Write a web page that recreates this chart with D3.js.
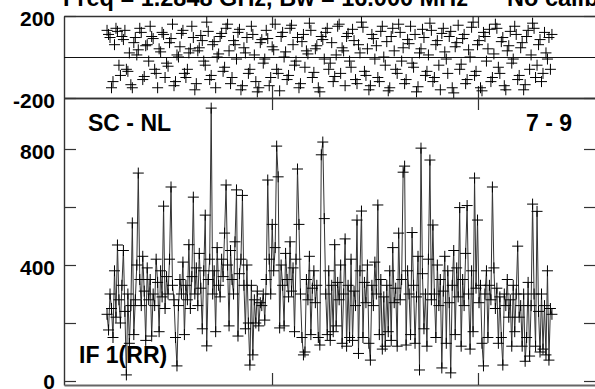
<!DOCTYPE html>
<html><head><meta charset="utf-8">
<script src="https://cdn.jsdelivr.net/npm/d3@7"></script>
<style>
body{margin:0;background:#fff;overflow:hidden}
svg{display:block}
text{font-family:"Liberation Sans",Arial,sans-serif;font-weight:bold;fill:#000}
</style>
</head><body>
<svg id="chart" width="595" height="389"></svg>
<script>
const titleText = "Freq = 1.2848 GHz, Bw = 16.000 MHz      No calibration";
const sourceLabel = "SC - NL";
const baselineLabel = "7 - 9";
const ifLabel = "IF 1(RR)";

const startHour = 11.199;
const spanHours = 2.16;
const timeTicks = [12, 13];

const phaseTicks = [-200, 200];
const phaseZero = [0];
const ampTicks = [0, 200, 400, 600, 800];
const ampLabelTicks = [0, 400, 800];

const amplitude = [
230,176,300,250,150,380,220,469,280,200,
330,450,240,21,300,130,260,545,160,280,
400,717,350,260,430,310,140,390,280,350,
155,300,260,420,340,170,380,290,603,250,
360,300,420,669,330,280,150,52,260,350,
300,410,160,330,280,470,250,360,634,300,
390,260,440,320,180,380,572,121,350,420,
941,300,380,170,460,330,290,420,360,510,
676,400,190,450,350,300,480,659,155,370,
420,640,330,180,400,200,55,330,90,280,
200,310,190,270,260,300,210,350,693,420,
300,540,380,460,810,704,183,400,330,190,
440,350,290,480,310,390,170,420,731,540,
300,150,90,100,350,280,430,160,320,380,
270,330,150,124,780,824,560,300,160,380,
140,330,170,470,190,340,280,400,130,300,
490,120,330,150,420,140,310,260,555,95,
380,586,150,340,270,400,130,72,330,260,
410,300,607,160,350,110,290,120,330,170,
380,140,460,270,320,120,510,280,350,720,
741,124,380,300,160,512,330,130,290,430,
38,803,370,180,300,120,420,762,280,538,
300,150,400,260,350,45,310,430,130,380,
270,28,330,450,160,390,290,598,120,350,
260,440,605,300,110,380,170,700,320,555,
270,330,130,52,300,380,150,330,280,669,
390,250,320,130,290,150,55,300,260,350,
220,280,120,330,170,300,465,220,260,120,
300,68,150,340,86,260,610,300,120,585,
240,100,300,110,260,90,380,72,250,230
];

const phase = [
130,110,95,-150,-120,60,140,125,-40,-90,
100,85,130,-60,-70,20,-135,-150,70,95,
10,35,140,120,-110,-95,55,60,-20,150,
100,90,-60,-80,-150,40,25,120,110,-100,
-30,-45,70,90,160,-140,-120,10,0,50,
115,130,-80,-100,-60,20,40,150,95,-160,
-130,30,45,105,80,-20,-40,170,125,-110,
-90,60,75,-150,0,15,100,115,-70,-50,
140,160,30,-130,-100,80,60,-10,120,135,
-160,-140,45,20,95,-80,-60,150,110,10,
-120,-170,-150,70,85,-30,-10,130,90,-140,
-100,50,35,160,-60,-80,-165,100,120,0,
25,-110,-90,140,155,60,-40,-20,95,-150,
-130,75,110,-50,30,15,165,130,-100,-75,
40,55,-150,-170,100,85,-10,120,140,-60,
-30,70,-120,-95,10,150,160,-80,45,30,
-140,100,115,-20,-50,135,80,-110,-130,60,
20,170,145,-70,-90,40,-160,-140,110,90,
-10,55,-100,-120,125,150,0,-40,75,-165,
-150,100,140,30,-60,-80,160,120,-20,45,
-130,-110,85,65,150,-30,-50,110,-170,-145,
20,40,135,95,-90,-70,10,165,130,-120,
-100,60,80,-40,-160,115,140,25,-10,-80,
100,125,-150,-175,50,70,155,-60,-35,90,
110,-130,-110,35,0,145,170,-90,-70,60,
80,-150,-165,120,100,-20,40,135,-120,-100,
15,160,140,-50,-80,75,95,-140,-160,30,
55,125,-30,-10,150,110,-110,-90,45,70,
-160,-135,100,130,-60,10,165,140,-100,-40,
60,85,-120,-80,120,20,-10,95,-60,110
];

const times = amplitude.map((_, i) => startHour + i * spanHours / (amplitude.length - 1));

const svg = d3.select("#chart");
const L = 64, R = 596;
const x = d3.scaleLinear().domain([10.990, 13.573]).range([L, R]);
const yP = d3.scaleLinear().domain([-200, 200]).range([98, 16]);
const yA = d3.scaleLinear().domain([0, 800]).range([381, 149]);
const ampBottom = 385, ampTop = 98;

const frameColor = "#333";
const tick = 12;

function styleAxis(g) {
  g.selectAll("path.domain").attr("stroke", frameColor).attr("stroke-width", 1.4);
  g.selectAll(".tick line").attr("stroke", frameColor).attr("stroke-width", 1.2);
  g.selectAll(".tick text").attr("font-size", 21).attr("font-family", "Liberation Sans, Arial, sans-serif")
    .attr("font-weight", "bold").attr("fill", "#000").attr("dy", d => d === 0 ? "0.36em" : "0.43em");
}

// ---- Phase panel ----
svg.append("g").attr("transform", `translate(${L},0)`)
  .call(d3.axisLeft(yP).tickValues(phaseTicks).tickSize(-tick).tickSizeOuter(0).tickPadding(9).tickFormat(d => String(d)))
  .call(styleAxis);
svg.append("g").attr("transform", `translate(${R},0)`)
  .call(d3.axisRight(yP).tickValues(phaseTicks).tickSize(-tick).tickSizeOuter(0).tickFormat(""))
  .call(styleAxis);
svg.append("g").attr("transform", `translate(0,${yP(200)})`)
  .call(d3.axisTop(x).tickValues(timeTicks).tickSize(-tick).tickSizeOuter(0).tickFormat(""))
  .call(styleAxis);
svg.append("g").attr("transform", `translate(0,${yP(-200)})`)
  .call(d3.axisBottom(x).tickValues(timeTicks).tickSize(-tick).tickSizeOuter(0).tickFormat(""))
  .call(styleAxis);
// zero line
svg.append("g").attr("transform", `translate(${L},0)`)
  .call(d3.axisLeft(yP).tickValues(phaseZero).tickSize(-(R - L)).tickSizeOuter(0).tickFormat(""))
  .call(g => { g.select("path.domain").remove(); g.selectAll(".tick line").attr("stroke", "#111").attr("stroke-width", 1); });

const cs = 5.5;
function crosses(g, data, xf, yf) {
  g.selectAll("path.cross").data(data).join("path").attr("class", "cross")
    .attr("d", d => { const cx = xf(d), cy = yf(d); return `M${cx - cs},${cy}H${cx + cs}M${cx},${cy - cs}V${cy + cs}`; })
    .attr("stroke", "#000").attr("stroke-width", 1).attr("fill", "none");
}

const pData = phase.map((v, i) => ({t: times[i], v}));
crosses(svg.append("g"), pData, d => x(d.t), d => yP(d.v));

// ---- Amplitude panel ----
const yAFrame = d3.scaleLinear().domain([yA.invert(ampBottom), yA.invert(ampTop)]).range([ampBottom, ampTop]);
svg.append("g").attr("transform", `translate(${L},0)`)
  .call(d3.axisLeft(yAFrame).tickValues(ampTicks).tickSize(-tick).tickSizeOuter(0).tickPadding(9)
    .tickFormat(d => ampLabelTicks.includes(d) ? String(d) : ""))
  .call(styleAxis);
svg.append("g").attr("transform", `translate(${R},0)`)
  .call(d3.axisRight(yAFrame).tickValues(ampTicks).tickSize(-tick).tickSizeOuter(0).tickFormat(""))
  .call(styleAxis);
svg.append("g").attr("transform", `translate(0,${ampTop})`)
  .call(d3.axisTop(x).tickValues(timeTicks).tickSize(-tick).tickSizeOuter(0).tickFormat(""))
  .call(styleAxis);
svg.append("g").attr("transform", `translate(0,${ampBottom})`)
  .call(d3.axisBottom(x).tickValues(timeTicks).tickSize(-tick).tickSizeOuter(0).tickFormat(""))
  .call(g => { styleAxis(g); g.select("path.domain").attr("stroke", "#666").attr("stroke-width", 2); });

const aData = amplitude.map((v, i) => ({t: times[i], v}));
svg.append("path").datum(aData)
  .attr("d", d3.line().x(d => x(d.t)).y(d => yA(d.v)))
  .attr("fill", "none").attr("stroke", "#333").attr("stroke-width", 1);
crosses(svg.append("g"), aData, d => x(d.t), d => yA(d.v));

// ---- Text ----
svg.append("text").attr("x", 63).attr("y", 6).attr("font-size", 23.5)
  .style("white-space", "pre").text(titleText);
svg.append("text").attr("x", 88).attr("y", 131).attr("font-size", 23).text(sourceLabel);
svg.append("text").attr("x", 572).attr("y", 131).attr("font-size", 23).attr("text-anchor", "end").text(baselineLabel);
svg.append("text").attr("x", 79).attr("y", 363).attr("font-size", 23).text(ifLabel);
</script>
</body></html>
